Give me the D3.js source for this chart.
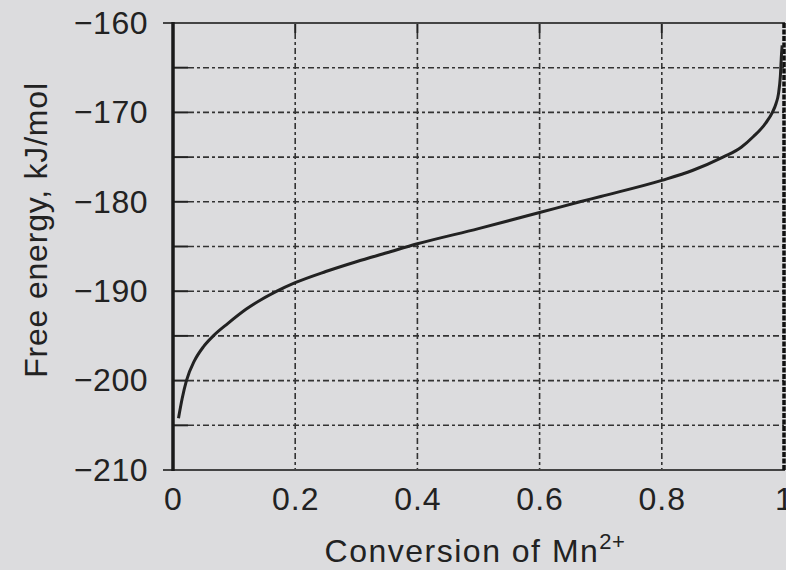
<!DOCTYPE html>
<html>
<head>
<meta charset="utf-8">
<script src="https://cdn.jsdelivr.net/npm/d3@7"></script>
<style>
  html, body { margin: 0; padding: 0; background: #dcdcde; }
  svg { display: block; }
  text { font-family: "Liberation Sans", Arial, sans-serif; fill: #222; }
</style>
</head>
<body>
<svg id="chart" width="786" height="570"></svg>
<script>
// Data
const conversion = [0.009, 0.015, 0.022, 0.035, 0.05, 0.066, 0.09, 0.12, 0.17, 0.2,
  0.25, 0.3, 0.35, 0.4, 0.5, 0.6, 0.666, 0.7, 0.8, 0.85, 0.9, 0.93, 0.95, 0.97,
  0.981, 0.987, 0.991, 0.994, 0.996, 0.997];
const freeEnergy = [-204.2, -202.0, -200.0, -197.8, -196.2, -195.0, -193.6, -192.0, -190.0, -189.05,
  -187.8, -186.7, -185.7, -184.7, -183.0, -181.2, -180.0, -179.4, -177.6, -176.5, -175.0, -173.9, -172.7, -171.2,
  -170.0, -169.0, -167.9, -166.0, -163.4, -162.5];
const xTicks = [0, 0.2, 0.4, 0.6, 0.8, 1];
const xTickLabels = ["0", "0.2", "0.4", "0.6", "0.8", "1"];
const yTicks = [-160, -170, -180, -190, -200, -210];
const yGrid = [-165, -170, -175, -180, -185, -190, -195, -200, -205];
const xGrid = [0.2, 0.4, 0.6, 0.8];

const svg = d3.select("#chart");
const x = d3.scaleLinear().domain([0, 1]).range([173, 784]);
const y = d3.scaleLinear().domain([-210, -160]).range([470, 23]);

const dash = "6,3,3,3";
const gridColor = "#333";

// horizontal grid with inward solid ticks
const hg = svg.append("g");
yGrid.forEach(v => {
  hg.append("line").attr("x1", x(0)).attr("x2", x(0) + 15)
    .attr("y1", y(v)).attr("y2", y(v))
    .attr("stroke", "#222").attr("stroke-width", 2);
  hg.append("line").attr("x1", x(0) + 15).attr("x2", x(1))
    .attr("y1", y(v)).attr("y2", y(v))
    .attr("stroke", gridColor).attr("stroke-width", 1.6)
    .attr("stroke-dasharray", dash);
});
// vertical grid
const vg = svg.append("g");
xGrid.forEach(v => {
  vg.append("line").attr("x1", x(v)).attr("x2", x(v))
    .attr("y1", y(-160)).attr("y2", y(-160) + 10)
    .attr("stroke", "#222").attr("stroke-width", 2);
  vg.append("line").attr("x1", x(v)).attr("x2", x(v))
    .attr("y1", y(-160) + 10).attr("y2", y(-210))
    .attr("stroke", gridColor).attr("stroke-width", 1.6)
    .attr("stroke-dasharray", dash);
});

// frame
svg.append("line").attr("x1", 163).attr("x2", x(1) + 1)
  .attr("y1", y(-160)).attr("y2", y(-160))
  .attr("stroke", "#444").attr("stroke-width", 2.2);
svg.append("line").attr("x1", 163).attr("x2", x(1) + 1)
  .attr("y1", y(-210)).attr("y2", y(-210))
  .attr("stroke", "#444").attr("stroke-width", 2.2);
svg.append("line").attr("x1", x(1)).attr("x2", x(1))
  .attr("y1", y(-160)).attr("y2", y(-210))
  .attr("stroke", "#111").attr("stroke-width", 3.5)
  .attr("stroke-dasharray", "5,1.5");
svg.append("line").attr("x1", x(0)).attr("x2", x(0))
  .attr("y1", y(-160) - 1).attr("y2", y(-210) + 1)
  .attr("stroke", "#1a1a1a").attr("stroke-width", 3.5);

// curve
const pts = conversion.map((c, i) => [c, freeEnergy[i]]);
svg.append("path").datum(pts)
  .attr("fill", "none").attr("stroke", "#222").attr("stroke-width", 3)
  .attr("d", d3.line().x(d => x(d[0])).y(d => y(d[1])).curve(d3.curveMonotoneX));

// axes (labels only)
const yAxis = d3.axisLeft(y).tickValues(yTicks).tickSize(0).tickPadding(25)
  .tickFormat(d => d3.format("d")(d));
const gy = svg.append("g").attr("transform", `translate(${x(0)},0)`).call(yAxis);
gy.select(".domain").remove();
gy.selectAll("text").attr("font-size", 32).attr("font-family", "'Liberation Sans', Arial, sans-serif")
  .attr("fill", "#222").attr("letter-spacing", 0.5);

const xAxis = d3.axisBottom(x).tickValues(xTicks).tickSize(0).tickPadding(17)
  .tickFormat((d, i) => xTickLabels[i]);
const gx = svg.append("g").attr("transform", `translate(0,${y(-210)})`).call(xAxis);
gx.select(".domain").remove();
gx.selectAll("text").attr("font-size", 32).attr("font-family", "'Liberation Sans', Arial, sans-serif")
  .attr("fill", "#222").attr("letter-spacing", 1);

// axis titles
const xt = svg.append("text").attr("x", 475).attr("y", 562)
  .attr("text-anchor", "middle").attr("font-size", 32).attr("letter-spacing", 1.5);
xt.append("tspan").text("Conversion of Mn");
xt.append("tspan").attr("font-size", 22).attr("dy", -13).attr("letter-spacing", 0.5).text("2+");

svg.append("text").attr("transform", "translate(47,230) rotate(-90)")
  .attr("text-anchor", "middle").attr("font-size", 32).attr("letter-spacing", 0.8)
  .text("Free energy, kJ/mol");
</script>
</body>
</html>
